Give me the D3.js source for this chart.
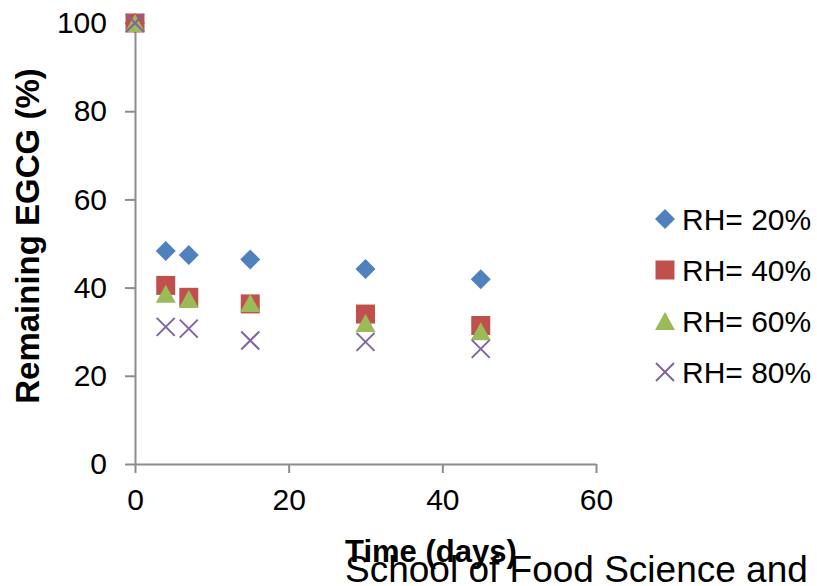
<!DOCTYPE html>
<html>
<head>
<meta charset="utf-8">
<script src="https://cdn.jsdelivr.net/npm/d3@7"></script>
<style>
  body { margin: 0; background: #fff; }
  text { font-family: "Liberation Sans", Arial, sans-serif; fill: #000; }
</style>
</head>
<body>
<script>
var width = 817,
    height = 586;

// data
var days = [0, 4, 7, 15, 30, 45];
var rh20 = [100, 48.3, 47.4, 46.4, 44.2, 41.9];
var rh40 = [100, 40.5, 37.8, 36.3, 34.0, 31.4];
var rh60 = [100, 38.6, 37.4, 36.5, 32.0, 30.1];
var rh80 = [100, 31.1, 30.7, 28.0, 27.7, 26.1];
var seriesNames = ["RH= 20%", "RH= 40%", "RH= 60%", "RH= 80%"];
var seriesColors = ["#4f81bd", "#c0504d", "#9bbb59", "#8064a2"];
var seriesShapes = ["diamond", "square", "triangle", "cross"];
var xTicks = [0, 20, 40, 60];
var yTicks = [0, 20, 40, 60, 80, 100];

var series = [rh20, rh40, rh60, rh80].map(function (vals, i) {
    return {
        name: seriesNames[i],
        color: seriesColors[i],
        shape: seriesShapes[i],
        points: vals.map(function (v, j) { return {x: days[j], y: v}; })
    };
});

var svg = d3.select("body").append("svg")
    .attr("width", width)
    .attr("height", height);

var x = d3.scaleLinear().domain([0, 60]).range([135, 596]);
var y = d3.scaleLinear().domain([0, 100]).range([464, 23]);

var axisColor = "#8c8c8c";

// y axis
var gy = svg.append("g")
    .attr("transform", "translate(" + x(0) + ",0)")
    .call(d3.axisLeft(y).tickValues(yTicks).tickSize(10).tickSizeOuter(0).tickPadding(18));
// x axis
var gx = svg.append("g")
    .attr("transform", "translate(0," + y(0) + ")")
    .call(d3.axisBottom(x).tickValues(xTicks).tickSize(9).tickSizeOuter(0).tickPadding(16));

[gx, gy].forEach(function (g) {
    g.select(".domain").attr("stroke", axisColor).attr("stroke-width", 2);
    g.selectAll(".tick line").attr("stroke", axisColor).attr("stroke-width", 2);
    g.selectAll(".tick text")
        .style("font-family", "'Liberation Sans', Arial, sans-serif")
        .style("font-size", "30px")
        .attr("fill", "#000");
});

// marker path centered on 0,0
function marker(shape) {
    switch (shape) {
        case "diamond":
            return "M0,-10L10,0L0,10L-10,0Z";
        case "square":
            return "M-9.5,-9.5H9.5V9.5H-9.5Z";
        case "triangle":
            return "M0,-9L10,9H-10Z";
        case "cross":
            return "M-9,-9L9,9M9,-9L-9,9";
    }
}

function drawMarker(sel, s) {
    sel.attr("d", marker(s.shape))
        .attr("fill", s.shape === "cross" ? "none" : s.color)
        .attr("stroke", s.shape === "cross" ? s.color : "none")
        .attr("stroke-width", 2);
}

series.forEach(function (s) {
    svg.append("g")
        .selectAll("path")
        .data(s.points)
        .enter().append("path")
        .attr("transform", function (d) {
            return "translate(" + x(d.x) + "," + y(d.y) + ")";
        })
        .call(drawMarker, s);
});

// legend
var legend = svg.append("g")
    .selectAll("g")
    .data(series)
    .enter().append("g")
    .attr("transform", function (d, i) {
        return "translate(665," + (219 + i * 51) + ")";
    });
legend.append("path").each(function (d) { d3.select(this).call(drawMarker, d); });
legend.append("text")
    .attr("x", 17)
    .attr("dy", "0.35em")
    .style("font-size", "30px")
    .text(function (d) { return d.name; });

// axis titles
svg.append("text")
    .attr("transform", "translate(39,236) rotate(-90)")
    .attr("text-anchor", "middle")
    .style("font-size", "33px")
    .style("font-weight", "bold")
    .text("Remaining EGCG (%)");

svg.append("text")
    .attr("x", 345)
    .attr("y", 562)
    .style("font-size", "31px")
    .style("font-weight", "bold")
    .text("Time (days)");

svg.append("text")
    .attr("x", 345)
    .attr("y", 582)
    .style("font-size", "37px")
    .text("School of Food Science and");
</script>
</body>
</html>
